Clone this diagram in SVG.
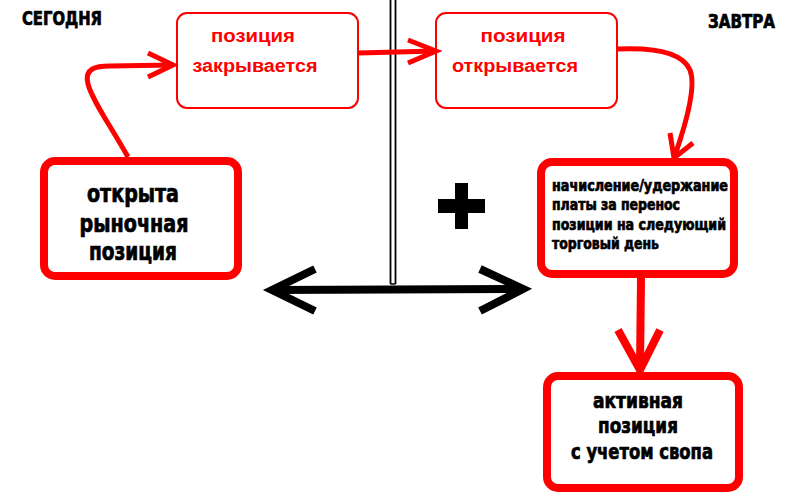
<svg xmlns="http://www.w3.org/2000/svg" width="800" height="500" viewBox="0 0 800 500">
<style>
.thin{fill:#fff;stroke:#ff0000;stroke-width:2}
.thick{fill:#fff;stroke:#ff0000;stroke-width:8}
.rl{fill:none;stroke:#ff0000;stroke-width:5;stroke-linecap:butt;stroke-linejoin:miter}
.rt{fill:#ff0000;font-family:"Liberation Sans",Arial,sans-serif;font-weight:bold;font-size:18px;text-anchor:middle}
.bt{fill:#000;stroke:#000;stroke-width:0.7;font-family:"Liberation Sans Narrow","DejaVu Sans Condensed","DejaVu Sans",sans-serif;font-weight:bold;font-stretch:condensed}
</style>
<rect width="800" height="500" fill="#fff"/>
<g id="divider">
<line x1="390.5" y1="0" x2="390.5" y2="284" stroke="#000" stroke-width="1.8"/>
<line x1="395.5" y1="0" x2="395.5" y2="284" stroke="#000" stroke-width="1.8"/>
<line x1="390.5" y1="284" x2="395.5" y2="284" stroke="#000" stroke-width="1.5"/>
</g>
<g id="label-today"><text class="bt" x="22" y="25" font-size="19" textLength="80" lengthAdjust="spacingAndGlyphs">СЕГОДНЯ</text></g>
<g id="label-tomorrow"><text class="bt" x="708" y="28" font-size="19" textLength="67" lengthAdjust="spacingAndGlyphs">ЗАВТРА</text></g>
<g id="node-close">
<rect class="thin" x="177" y="13" width="181" height="95" rx="10"/>
<text class="rt" x="253" y="42" textLength="84" lengthAdjust="spacingAndGlyphs">позиция</text>
<text class="rt" x="255" y="72" textLength="125" lengthAdjust="spacingAndGlyphs">закрывается</text>
</g>
<g id="node-open">
<rect class="thin" x="436" y="13" width="181" height="95" rx="10"/>
<text class="rt" x="523" y="42" textLength="85" lengthAdjust="spacingAndGlyphs">позиция</text>
<text class="rt" x="515" y="72" textLength="126" lengthAdjust="spacingAndGlyphs">открывается</text>
</g>
<g id="node-market">
<rect class="thick" x="44" y="161" width="194" height="115" rx="11"/>
<text class="bt" x="133" y="202" font-size="24" text-anchor="middle" textLength="92" lengthAdjust="spacingAndGlyphs">открыта</text>
<text class="bt" x="134" y="232" font-size="24" text-anchor="middle" textLength="109" lengthAdjust="spacingAndGlyphs">рыночная</text>
<text class="bt" x="133" y="260" font-size="24" text-anchor="middle" textLength="88" lengthAdjust="spacingAndGlyphs">позиция</text>
</g>
<g id="node-swap">
<rect class="thick" x="541" y="162" width="193" height="112" rx="11"/>
<text class="bt" font-size="16"><tspan x="552" y="191" textLength="176" lengthAdjust="spacingAndGlyphs">начисление/удержание</tspan><tspan x="552" y="210" textLength="128" lengthAdjust="spacingAndGlyphs">платы за перенос</tspan><tspan x="552" y="230" textLength="174" lengthAdjust="spacingAndGlyphs">позиции на следующий</tspan><tspan x="552" y="249" textLength="107" lengthAdjust="spacingAndGlyphs">торговый день</tspan></text>
</g>
<g id="node-active">
<rect class="thick" x="547" y="376" width="192" height="112" rx="11"/>
<text class="bt" x="638" y="408" font-size="22" text-anchor="middle" textLength="90" lengthAdjust="spacingAndGlyphs">активная</text>
<text class="bt" x="638" y="433" font-size="22" text-anchor="middle" textLength="80" lengthAdjust="spacingAndGlyphs">позиция</text>
<text class="bt" x="642" y="459" font-size="22" text-anchor="middle" textLength="142" lengthAdjust="spacingAndGlyphs">с учетом свопа</text>
</g>
<g id="plus">
<rect x="438" y="199" width="47" height="14" fill="#000"/>
<rect x="455" y="183" width="13" height="46" fill="#000"/>
</g>
<g id="connectors">
<path class="rl" d="M128,157 C110,125 92,100 88,84 C84,68 96,66 110,66 L173,65"/>
<path class="rl" d="M148,53 L173,65 L148,77"/>
<path class="rl" d="M358,53 L436,51"/>
<path class="rl" d="M408,40 L436,51 L408,63"/>
<path class="rl" d="M617,49 Q680,46 690,70 Q698,90 674,158"/>
<path class="rl" d="M670,133 L674,158 L693,143"/>
<line x1="641" y1="278" x2="640" y2="368" stroke="#ff0000" stroke-width="8"/>
<path d="M618,330 L640,370 L660,330" fill="none" stroke="#ff0000" stroke-width="8"/>
<line x1="272" y1="290" x2="523" y2="289" stroke="#000" stroke-width="8"/>
<path d="M315,269 L272,290 L315,311" fill="none" stroke="#000" stroke-width="8"/>
<path d="M480,269 L523,289 L480,311" fill="none" stroke="#000" stroke-width="8"/>
</g>
</svg>
